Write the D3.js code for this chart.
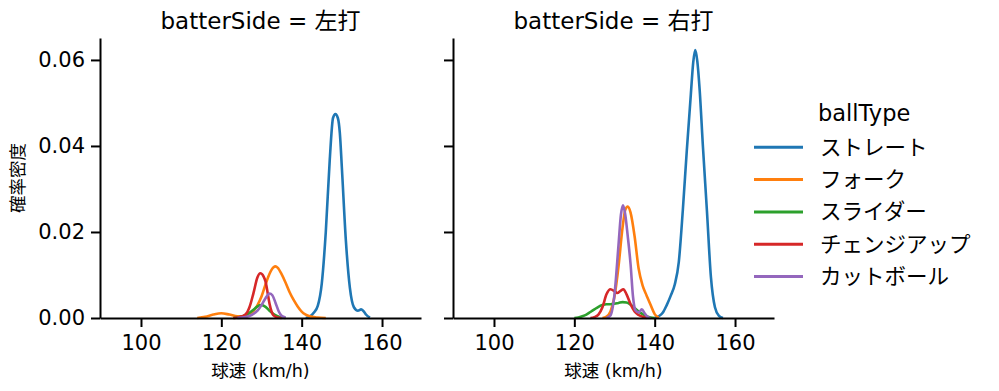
<!DOCTYPE html>
<html>
<head>
<meta charset="utf-8">
<script src="https://cdn.jsdelivr.net/npm/d3@7"></script>
<style>
body { margin: 0; background: #fff; }
text { font-family: "DejaVu Sans", "Noto Sans CJK JP", sans-serif; fill: #000; }
</style>
</head>
<body>
<div id="plot"></div>
<script>

var sides = ["左打", "右打"];
var ballTypes = ["ストレート", "フォーク", "スライダー", "チェンジアップ", "カットボール"];
var colors = ["#1f77b4", "#ff7f0e", "#2ca02c", "#d62728", "#9467bd"];
var xTicks = [100, 120, 140, 160];
var yTicks = [0, 0.02, 0.04, 0.06];

// density curves: [speed, density]
var leftStraight = [[141,0],[142,0.0003],[143,0.0012],[144,0.0028],[145,0.008],[146,0.020],[147,0.037],[147.8,0.0465],[148.4,0.0474],[149,0.0465],[149.5,0.043],[150,0.035],[151,0.018],[152,0.007],[153,0.0025],[154,0.0017],[154.8,0.002],[155.5,0.0015],[156,0.0008],[157,0.0001]];
var leftFork = [[114,0],[116,0.0003],[118,0.0008],[120,0.0011],[122,0.0008],[124,0.0004],[126,0.0004],[127,0.0008],[128,0.0016],[129,0.003],[130,0.005],[131,0.0078],[132,0.0103],[133,0.0118],[133.5,0.012],[134,0.0117],[135,0.0102],[136,0.0082],[137,0.006],[138,0.0042],[139,0.0027],[140,0.0015],[141,0.0008],[142,0.0004],[144,0.0001],[146,0]];
var leftSlider = [[123,0],[125,0.0003],[126.5,0.0009],[128,0.0019],[129,0.0027],[130,0.003],[131,0.0026],[132,0.0017],[133,0.0009],[134,0.0004],[135,0.0001],[136,0]];
var leftChangeup = [[123,0],[124.5,0.0002],[126,0.0008],[127,0.0025],[128,0.0058],[129,0.0095],[129.7,0.0104],[130.5,0.0097],[131,0.0085],[131.5,0.006],[132,0.0033],[132.5,0.0015],[133,0.0006],[134,0.0001],[135,0]];
var leftCutter = [[124,0],[126,0.0002],[127.5,0.0007],[129,0.0017],[130,0.003],[131,0.0046],[132,0.0057],[132.7,0.0053],[133.5,0.0035],[134.3,0.0015],[135,0.0005],[136,0.0001]];

var rightStraight = [[140,0],[141,0.0004],[142,0.0012],[143,0.003],[144,0.0052],[145,0.0078],[146,0.013],[147,0.025],[148,0.039],[149,0.052],[149.6,0.0595],[150.1,0.0623],[150.6,0.0598],[151.2,0.053],[152,0.040],[153,0.025],[154,0.0095],[155,0.0025],[156,0.0005],[157,0]];
var rightFork = [[127,0],[128,0.0003],[129,0.0015],[130,0.005],[131,0.012],[132,0.021],[132.7,0.0252],[133.3,0.0259],[134,0.0245],[135,0.019],[136,0.0115],[137,0.0075],[138,0.0052],[139,0.003],[140,0.0009],[141,0.0001]];
var rightSlider = [[120,0],[121,0.0001],[122,0.0004],[123,0.0008],[124,0.0014],[125,0.002],[126,0.0026],[127,0.003],[128,0.0032],[129,0.0032],[130,0.0033],[131,0.0035],[132,0.0037],[133,0.0036],[134,0.0031],[135,0.0023],[136,0.0015],[137,0.0009],[138,0.0004],[139,0.0001],[140,0]];
var rightChangeup = [[124,0],[125,0.0002],[126,0.0008],[127,0.0025],[128,0.0055],[129,0.0067],[130,0.0062],[130.7,0.0058],[131.5,0.0063],[132.2,0.0067],[133,0.0055],[134,0.0032],[135,0.0015],[136,0.0007],[137,0.0003],[138,0]];
var rightCutter = [[128,0],[129,0.0006],[130,0.0055],[131,0.017],[131.6,0.024],[132.1,0.0262],[132.6,0.0245],[133.3,0.019],[134,0.0125],[134.6,0.005],[135.2,0.0018],[136,0.0013],[136.8,0.002],[137.5,0.0011],[138.3,0.0002],[139,0]];

var curves = [
	[leftStraight, leftFork, leftSlider, leftChangeup, leftCutter],
	[rightStraight, rightFork, rightSlider, rightChangeup, rightCutter]
];

var svg = d3.select("#plot")
	.append("svg")
	.attr("width", 999)
	.attr("height", 391);

var panelLeft = [100, 453];
var panelWidth = 321;
var plotTop = 38, plotBottom = 318;

var y = d3.scaleLinear().domain([0, 0.0651]).range([plotBottom, plotTop]);

sides.forEach(function(side, i){

	var x = d3.scaleLinear().domain([89.8, 169.7]).range([panelLeft[i], panelLeft[i] + panelWidth]);
	var g = svg.append("g");

	var line = d3.line()
		.x(function(d){ return x(d[0]); })
		.y(function(d){ return y(d[1]); })
		.curve(d3.curveMonotoneX);

	curves[i].forEach(function(c, k){
		g.append("path")
			.attr("d", line(c))
			.attr("fill", "none")
			.attr("stroke", colors[k])
			.attr("stroke-width", 2.6)
			.attr("stroke-linejoin", "round");
	});

	var xAxis = g.append("g")
		.attr("transform", "translate(0," + plotBottom + ")")
		.call(d3.axisBottom(x).tickValues(xTicks).tickSize(9).tickPadding(6).tickSizeOuter(0));

	var yAxis = g.append("g")
		.attr("transform", "translate(" + panelLeft[i] + ",0)")
		.call(d3.axisLeft(y).tickValues(yTicks).tickSize(9).tickPadding(6).tickSizeOuter(0)
			.tickFormat(i == 0 ? d3.format(".2f") : function(){ return ""; }));

	[xAxis, yAxis].forEach(function(a){
		a.select(".domain").attr("stroke", "#000").attr("stroke-width", 2);
		a.selectAll(".tick line").attr("stroke", "#000").attr("stroke-width", 2);
		a.selectAll(".tick text").style("font-size", "21px").attr("fill", "#000");
	});
	xAxis.selectAll(".tick text").attr("dy", "0.8em");

	g.append("text")
		.attr("x", panelLeft[i] + panelWidth / 2)
		.attr("y", 29)
		.attr("text-anchor", "middle")
		.style("font-size", "23px")
		.text("batterSide = " + side);

	g.append("text")
		.attr("x", panelLeft[i] + panelWidth / 2)
		.attr("y", 377)
		.attr("text-anchor", "middle")
		.style("font-size", "17.5px")
		.text("球速 (km/h)");
});

svg.append("text")
	.attr("transform", "translate(24,178) rotate(-90)")
	.attr("text-anchor", "middle")
	.style("font-size", "17.5px")
	.text("確率密度");

// legend
var legend = svg.append("g");
legend.append("text")
	.attr("x", 818)
	.attr("y", 121)
	.style("font-size", "22.5px")
	.text("ballType");

ballTypes.forEach(function(name, k){
	var ly = 147.3 + k * 32.3;
	legend.append("line")
		.attr("x1", 754).attr("x2", 803)
		.attr("y1", ly).attr("y2", ly)
		.attr("stroke", colors[k])
		.attr("stroke-width", 3);
	legend.append("text")
		.attr("x", 820)
		.attr("y", ly + 7.5)
		.style("font-size", "21.5px")
		.text(name);
});

</script>
</body>
</html>
